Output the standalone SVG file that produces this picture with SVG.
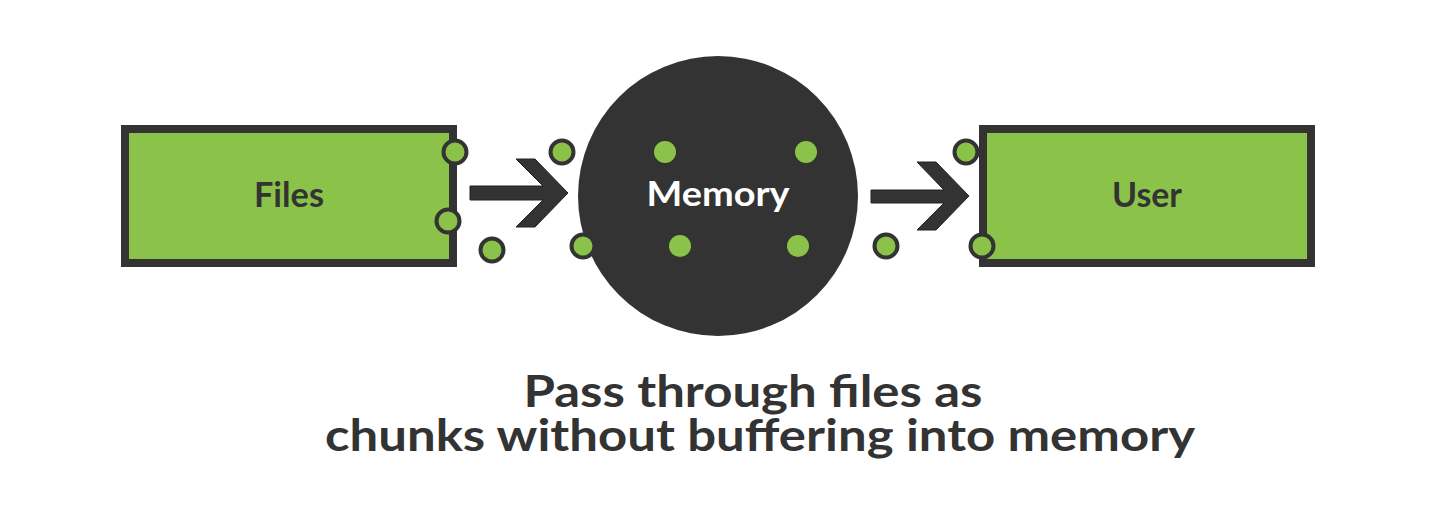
<svg xmlns="http://www.w3.org/2000/svg" width="1435" height="510" viewBox="0 0 1435 510">
<style>
.box{fill:#8BC34A;stroke:#333333;stroke-width:8}
.port{fill:#8BC34A;stroke:#333333;stroke-width:4}
.dot{fill:#8BC34A}
.lbl{font-family:"Lato","Liberation Sans",sans-serif;font-weight:bold;text-anchor:middle}
.arrow{fill:#333333;stroke:#222222;stroke-width:1}
</style>
<rect width="1435" height="510" fill="#ffffff"/>
<g id="files">
<rect class="box" x="125" y="129" width="328" height="134"/>
<text class="lbl" x="289" y="207" font-size="34" fill="#333333" textLength="70" lengthAdjust="spacingAndGlyphs">Files</text>
<circle class="port" cx="455" cy="152" r="11.5"/>
<circle class="port" cx="448" cy="221" r="11.5"/>
</g>
<g id="memory">
<circle cx="718" cy="196" r="140" fill="#333333"/>
<text class="lbl" x="718" y="206" font-size="34" fill="#ffffff" textLength="143" lengthAdjust="spacingAndGlyphs">Memory</text>
<circle class="dot" cx="665" cy="152" r="11"/>
<circle class="dot" cx="806" cy="152" r="11"/>
<circle class="dot" cx="680" cy="246" r="11"/>
<circle class="dot" cx="798" cy="246" r="11"/>
<circle class="port" cx="583" cy="246" r="11.5"/>
</g>
<g id="user">
<rect class="box" x="983" y="129" width="328" height="134"/>
<text class="lbl" x="1147" y="207" font-size="34" fill="#333333" textLength="70" lengthAdjust="spacingAndGlyphs">User</text>
<circle class="port" cx="966" cy="152" r="11.5"/>
<circle class="port" cx="982" cy="246" r="11.5"/>
</g>
<g id="chunks">
<circle class="port" cx="492" cy="250" r="11.5"/>
<circle class="port" cx="562" cy="152" r="11.5"/>
<circle class="port" cx="886" cy="246" r="11.5"/>
</g>
<g id="connectors">
<path class="arrow" d="M470,186 H543 L516,159 H535 L568,193 L535,227 H516 L543,200 H470 Z"/>
<path class="arrow" d="M871,190 H944 L917,162 H936 L969,196 L936,230 H917 L944,203 H871 Z"/>
</g>
<g id="caption">
<text class="lbl" x="753" y="407" font-size="44" fill="#333333" textLength="459" lengthAdjust="spacingAndGlyphs">Pass through files as</text>
<text class="lbl" x="760" y="451" font-size="44" fill="#333333" textLength="870" lengthAdjust="spacingAndGlyphs">chunks without buffering into memory</text>
</g>
</svg>
